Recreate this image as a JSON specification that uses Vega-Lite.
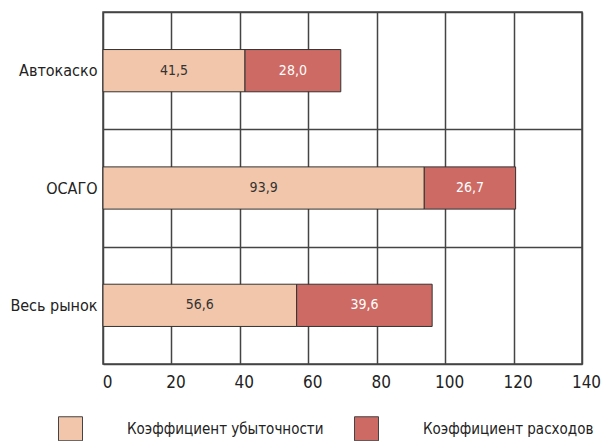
{
  "$schema": "https://vega.github.io/schema/vega-lite/v6.json",
  "autosize": {"type": "none"},
  "padding": {"left": 103, "top": 12, "right": 24, "bottom": 77},
  "width": 479,
  "height": 352,
  "background": "white",
  "config": {
    "locale": {"number": {"decimal": ",", "thousands": " ", "grouping": [3], "currency": ["", ""]}},
    "view": {"stroke": "#444", "strokeWidth": 1.5},
    "font": "DejaVu Sans Condensed"
  },
  "data": {
    "values": [
      {"segment": "Автокаско", "type": "Коэффициент убыточности", "idx": 1, "value": 41.5},
      {"segment": "Автокаско", "type": "Коэффициент расходов", "idx": 2, "value": 28.0},
      {"segment": "ОСАГО", "type": "Коэффициент убыточности", "idx": 1, "value": 93.9},
      {"segment": "ОСАГО", "type": "Коэффициент расходов", "idx": 2, "value": 26.7},
      {"segment": "Весь рынок", "type": "Коэффициент убыточности", "idx": 1, "value": 56.6},
      {"segment": "Весь рынок", "type": "Коэффициент расходов", "idx": 2, "value": 39.6}
    ]
  },
  "encoding": {
    "y": {
      "field": "segment", "type": "nominal",
      "sort": ["Автокаско", "ОСАГО", "Весь рынок"],
      "scale": {"paddingInner": 0, "paddingOuter": 0},
      "axis": {
        "title": null, "ticks": false, "domain": false,
        "grid": true, "tickBand": "extent", "gridColor": "#444", "gridWidth": 1.5, "gridOpacity": 1,
        "labelFont": "DejaVu Sans Condensed", "labelFontSize": 16, "labelColor": "#222", "labelPadding": 6
      }
    }
  },
  "layer": [
    {
      "mark": {"type": "bar", "height": {"band": 0.36}, "stroke": "#333", "strokeWidth": 1},
      "encoding": {
        "x": {
          "field": "value", "type": "quantitative", "stack": "zero",
          "scale": {"domain": [0, 140], "nice": false},
          "axis": {
            "title": null, "values": [0, 20, 40, 60, 80, 100, 120, 140],
            "ticks": false, "domain": false, "grid": true, "gridColor": "#444", "gridWidth": 1.5, "gridOpacity": 1,
            "labelFont": "DejaVu Sans Condensed", "labelFontSize": 17, "labelColor": "#222", "labelPadding": 10,
            "labelOffset": 4, "labelFlush": false
          }
        },
        "order": {"field": "idx", "type": "quantitative"},
        "color": {
          "field": "type", "type": "nominal",
          "scale": {"domain": ["Коэффициент убыточности", "Коэффициент расходов"], "range": ["#F2C6AA", "#CD6A64"]},
          "legend": {
            "title": null, "orient": "none", "direction": "horizontal",
            "legendX": -45, "legendY": 404,
            "symbolType": "square", "symbolSize": 576, "symbolStrokeColor": "#444", "symbolStrokeWidth": 1,
            "labelFont": "DejaVu Sans Condensed", "labelFontSize": 15, "labelColor": "#222",
            "labelOffset": 44, "columnPadding": 28, "labelLimit": 300
          }
        }
      }
    },
    {
      "mark": {"type": "text", "fontSize": 14, "font": "DejaVu Sans Condensed"},
      "encoding": {
        "x": {"field": "value", "type": "quantitative", "stack": "zero", "bandPosition": 0.5},
        "order": {"field": "idx", "type": "quantitative"},
        "detail": {"field": "type"},
        "text": {"field": "value", "type": "quantitative", "format": ".1f"},
        "color": {"condition": {"test": "datum.idx == 1", "value": "#333"}, "value": "white"}
      }
    }
  ]
}
